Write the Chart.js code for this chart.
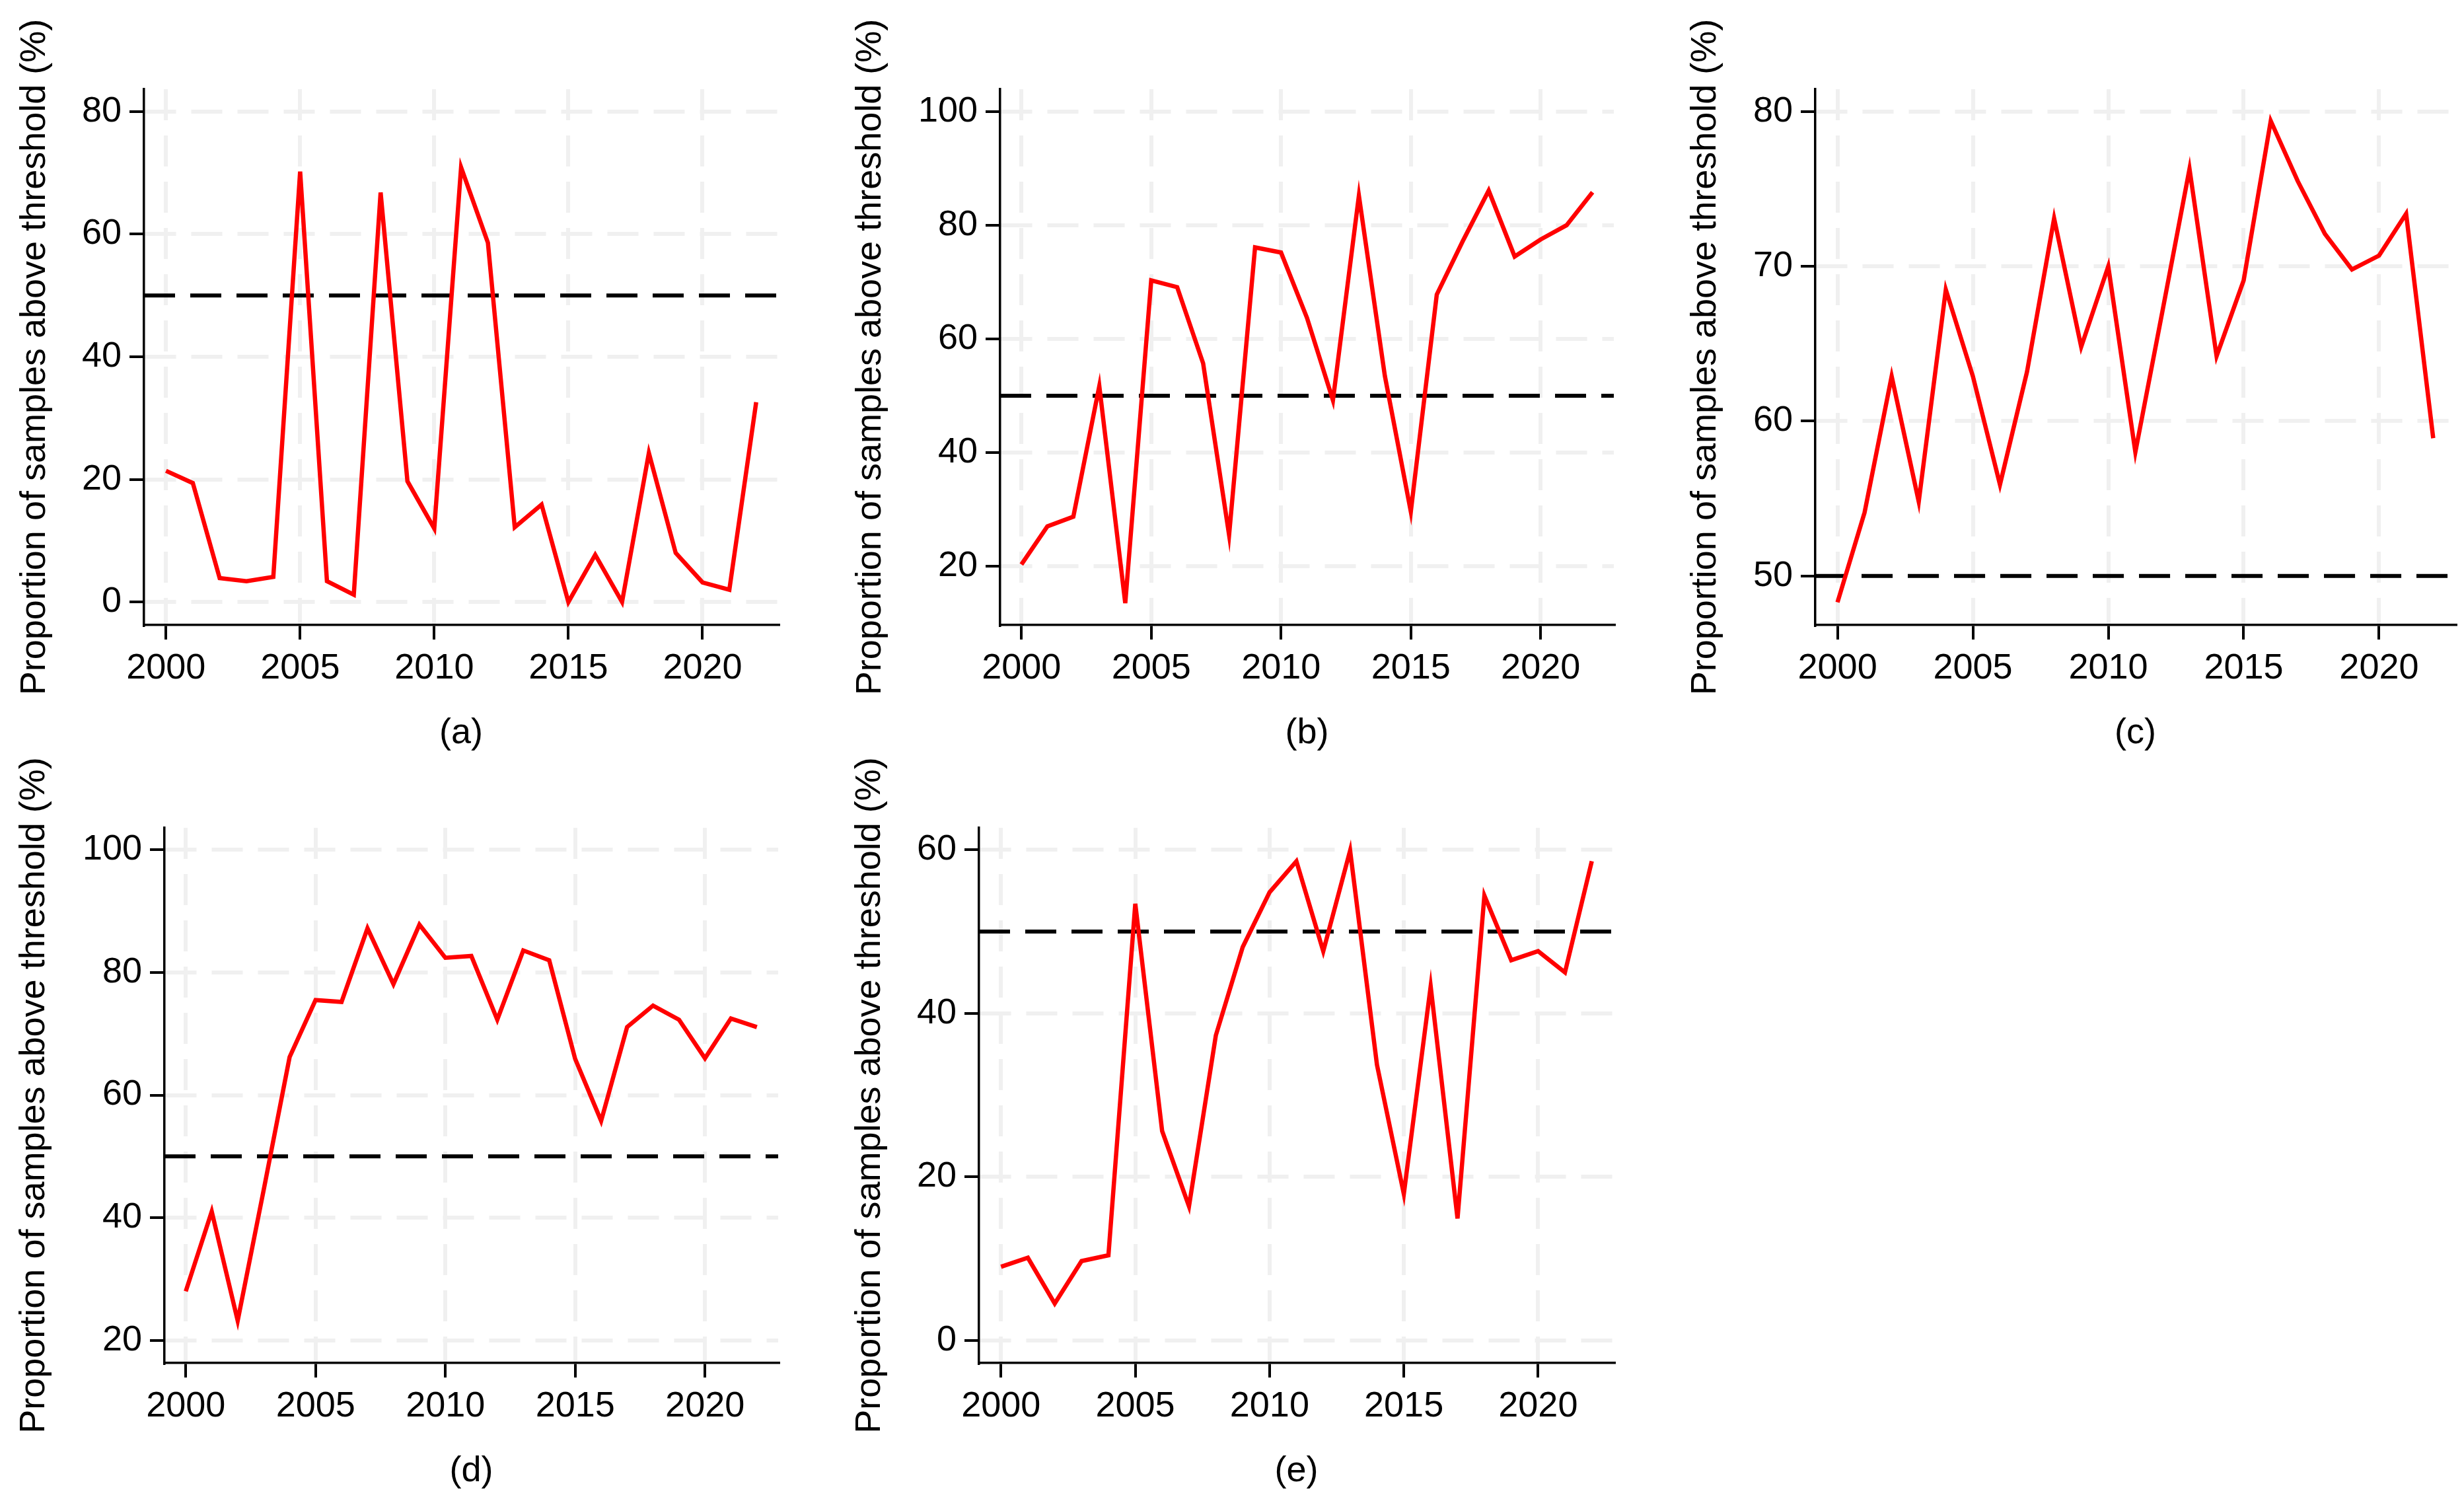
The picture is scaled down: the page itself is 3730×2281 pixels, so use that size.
<!DOCTYPE html>
<html>
<head>
<meta charset="utf-8">
<script src="https://cdn.jsdelivr.net/npm/chart.js@4.4.0/dist/chart.umd.min.js"></script>
<style>
  html, body { margin:0; padding:0; background:#fff; }
  #wrap { position:relative; width:3730px; height:2281px; background:#fff; overflow:hidden; }
  #wrap canvas { position:absolute; }
</style>
</head>
<body>
<div id="wrap">
  <canvas id="pa"></canvas>
  <canvas id="pb"></canvas>
  <canvas id="pc"></canvas>
  <canvas id="pd"></canvas>
  <canvas id="pe"></canvas>
</div>
<script>
// data
const years = [2000,2001,2002,2003,2004,2005,2006,2007,2008,2009,2010,2011,2012,2013,2014,2015,2016,2017,2018,2019,2020,2021,2022];
const seriesA = [21.4,19.4,3.9,3.4,4.1,70.2,3.4,1.2,66.8,19.7,12.0,70.9,58.6,12.2,15.9,0.0,7.7,0.0,24.3,8.0,3.2,2.0,32.6];
const seriesB = [20.3,27.0,28.7,51.7,13.5,70.3,69.1,55.7,25.5,76.1,75.2,63.7,49.2,85.2,53.5,29.6,67.8,77.2,86.1,74.5,77.5,80.0,85.8];
const seriesC = [48.3,54.1,62.9,54.8,68.5,62.9,55.9,63.2,73.1,64.8,70.0,58.0,67.1,76.3,64.2,69.1,79.4,75.5,72.1,69.8,70.7,73.4,58.9];
const seriesD = [28.0,41.0,23.2,44.5,66.2,75.5,75.2,87.2,78.1,87.8,82.4,82.7,72.3,83.6,82.0,65.9,55.8,71.1,74.6,72.3,66.0,72.5,71.1];
const seriesE = [9.0,10.1,4.5,9.7,10.4,53.4,25.6,16.4,37.3,48.1,54.8,58.6,47.6,59.9,33.7,17.9,43.3,14.9,54.4,46.5,47.6,45.0,58.6];
const threshold = 50;
const xTicks = [2000,2005,2010,2015,2020];
const panelLabels = ['(a)','(b)','(c)','(d)','(e)'];
const yLabel = 'Proportion of samples above threshold (%)';

const X_MIN = 1999.18, X_MAX = 2022.82;
const FONT = "'Liberation Sans', Arial, sans-serif";

Chart.defaults.font.family = FONT;
Chart.defaults.font.size = 54;
Chart.defaults.color = '#000';

// y title drawn by hand: chart.js squeezes long vertical titles to the axis height
const yTitlePlugin = {
  id: 'yTitle',
  afterDraw(chart) {
    const {ctx, chartArea} = chart;
    ctx.save();
    ctx.font = '54px ' + FONT;
    ctx.fillStyle = '#000';
    ctx.textAlign = 'center';
    ctx.textBaseline = 'middle';
    ctx.translate(32.4, (chartArea.top + chartArea.bottom) / 2);
    ctx.rotate(-Math.PI / 2);
    ctx.fillText(yLabel, 0, 0);
    ctx.restore();
  }
};

// placement of each panel (canvas box + axis sizes), and y range
const panels = [
  {id:'pa', data:seriesA, label:panelLabels[0], left:21,   top:0,    yW:197, plotW:960, plotH:811, padR:20, yMin:-3.75, yMax:83.65, step:20},
  {id:'pb', data:seriesB, label:panelLabels[1], left:1286, top:0,    yW:228, plotW:929, plotH:811, padR:20, yMin:9.65,  yMax:103.94, step:20},
  {id:'pc', data:seriesC, label:panelLabels[2], left:2550, top:0,    yW:198, plotW:969, plotH:811, padR:10, yMin:46.83, yMax:81.45, step:10},
  {id:'pd', data:seriesD, label:panelLabels[3], left:20,   top:1118, yW:229, plotW:929, plotH:810, padR:20, yMin:16.3,  yMax:103.6, step:20},
  {id:'pe', data:seriesE, label:panelLabels[4], left:1285, top:1118, yW:197, plotW:961, plotH:810, padR:20, yMin:-2.77, yMax:62.69, step:20}
];
const PAD_T = 135, X_H = 197;

panels.forEach(p => {
  const cv = document.getElementById(p.id);
  const w = p.yW + p.plotW + p.padR, h = PAD_T + p.plotH + X_H;
  cv.width = w; cv.height = h;
  cv.style.left = p.left + 'px'; cv.style.top = p.top + 'px';
  cv.style.width = w + 'px'; cv.style.height = h + 'px';

  const gridCommon = { color:'#f0f0f0', lineWidth:6, tickColor:'#000', tickWidth:4, tickLength:22, tickBorderDash:[] };
  const borderCommon = { display:true, color:'#000', width:3.5, dash:[47,23] };

  new Chart(cv.getContext('2d'), {
    type: 'line',
    data: {
      datasets: [
        { data: years.map((yr,i)=>({x:yr, y:p.data[i]})), borderColor:'#ff0000', borderWidth:6.5,
          pointRadius:0, tension:0, fill:false, order:0 },
        { data: [{x:X_MIN, y:threshold},{x:X_MAX, y:threshold}], borderColor:'#000', borderWidth:6,
          borderDash:[47,23], pointRadius:0, fill:false, order:1 }
      ]
    },
    options: {
      responsive:false, maintainAspectRatio:false, animation:false, devicePixelRatio:1,
      layout: { padding: { top:PAD_T, right:p.padR, bottom:0, left:0 } },
      plugins: { legend:{display:false}, tooltip:{enabled:false} },
      scales: {
        x: {
          type:'linear', min:X_MIN, max:X_MAX,
          afterBuildTicks: s => { s.ticks = xTicks.map(v=>({value:v})); },
          afterFit: s => { s.height = X_H; },
          ticks: { padding:12, maxRotation:0, autoSkip:false, callback: v => String(v) },
          grid: gridCommon, border: borderCommon,
          title: { display:true, text:p.label, padding:0 }
        },
        y: {
          min:p.yMin, max:p.yMax,
          afterFit: s => { s.width = p.yW; },
          ticks: { stepSize:p.step, padding:12, includeBounds:false },
          grid: gridCommon, border: borderCommon
        }
      }
    },
    plugins: [yTitlePlugin]
  });
});
</script>
</body>
</html>
